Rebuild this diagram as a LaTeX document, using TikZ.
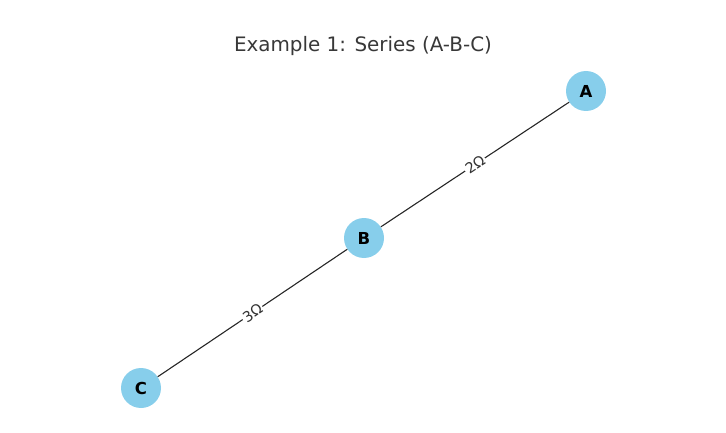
\documentclass[tikz,border=0pt]{standalone}
\usepackage{fontspec}
\setmainfont{DejaVu Sans}
\begin{document}
\begin{tikzpicture}[x=1pt,y=-1pt,
  vertex/.style={circle,fill=nodeblue,minimum size=40pt,inner sep=0pt,font=\fontsize{16.5}{18}\selectfont\bfseries},
  wire/.style={draw=black!85,line width=1.1pt},
  elabel/.style={fill=white,inner sep=1.5pt,text=black!80,font=\fontsize{14.5}{16}\selectfont,sloped}]
\definecolor{nodeblue}{HTML}{87CEEB}
\useasboundingbox (0,0) rectangle (726,433);
\node[text=black!78,font=\fontsize{19.9}{22}\selectfont] (title) at (363,46) {Example 1: Series (A-B-C)};
\node[vertex] (A) at (586,91) {A};
\node[vertex] (B) at (364,238) {B};
\node[vertex] (C) at (141,388) {C};
\path[wire] (B) -- node[elabel] {2Ω} (A);
\path[wire] (C) -- node[elabel] {3Ω} (B);
\end{tikzpicture}
\end{document}
